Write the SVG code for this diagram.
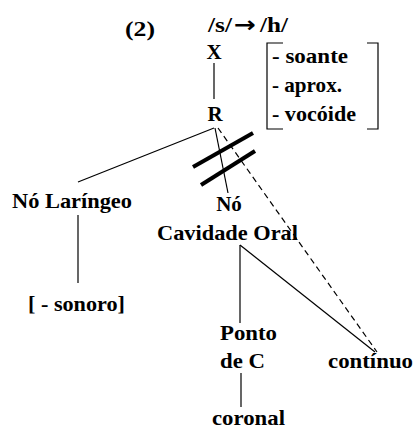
<svg xmlns="http://www.w3.org/2000/svg" width="416" height="429" viewBox="0 0 416 429">
<style>
text{font-family:"Liberation Serif","Times New Roman",serif;font-weight:bold;font-size:21px;fill:#000}
.l{stroke:#000;stroke-width:1.2;fill:none}
.d{stroke:#000;stroke-width:1.2;fill:none;stroke-dasharray:6,4}
.b{stroke:#000;stroke-width:4;fill:none}
.a{font-family:"DejaVu Sans",sans-serif;font-size:22px}
</style>
<rect width="416" height="429" fill="#fff"/>
<g id="title">
<text x="125" y="36" textLength="30" lengthAdjust="spacingAndGlyphs">(2)</text>
<text x="208" y="32" textLength="24" lengthAdjust="spacingAndGlyphs">/s/</text>
<text class="a" x="234" y="32" textLength="22" lengthAdjust="spacingAndGlyphs">→</text>
<text x="260" y="32" textLength="28" lengthAdjust="spacingAndGlyphs">/h/</text>
</g>
<g id="connectors">
<line class="l" x1="214" y1="63" x2="214" y2="99"/>
<line class="l" x1="214" y1="128" x2="78" y2="182"/>
<line class="l" x1="215" y1="128" x2="228" y2="193"/>
<line class="d" x1="218" y1="128" x2="377" y2="352"/>
<line class="b" x1="193" y1="167" x2="253" y2="133"/>
<line class="b" x1="201" y1="185" x2="255" y2="151"/>
<line class="l" x1="78" y1="215" x2="78" y2="283"/>
<line class="l" x1="240" y1="245" x2="240" y2="323"/>
<line class="l" x1="240" y1="245" x2="375" y2="352"/>
<line class="l" x1="241" y1="373" x2="241" y2="407"/>
</g>
<g id="X"><text x="214" y="59" text-anchor="middle">X</text></g>
<g id="R"><text x="215" y="121" text-anchor="middle">R</text></g>
<g id="features">
<path class="l" d="M283,43 H267 V129 H283"/>
<path class="l" d="M367,43 H378 V129 H367"/>
<text x="272" y="63" textLength="76" lengthAdjust="spacingAndGlyphs">- soante</text>
<text x="272" y="92" textLength="70" lengthAdjust="spacingAndGlyphs">- aprox.</text>
<text x="272" y="121" textLength="84" lengthAdjust="spacingAndGlyphs">- vocóide</text>
</g>
<g id="laringeo"><text x="12" y="208" textLength="120" lengthAdjust="spacingAndGlyphs">Nó Laríngeo</text></g>
<g id="sonoro"><text x="28" y="311" textLength="97" lengthAdjust="spacingAndGlyphs">[ - sonoro]</text></g>
<g id="cavidade">
<text x="229" y="211" text-anchor="middle">Nó</text>
<text x="157" y="240" textLength="141" lengthAdjust="spacingAndGlyphs">Cavidade Oral</text>
</g>
<g id="ponto">
<text x="220" y="340" textLength="57" lengthAdjust="spacingAndGlyphs">Ponto</text>
<text x="220" y="368" textLength="45" lengthAdjust="spacingAndGlyphs">de C</text>
</g>
<g id="continuo"><text x="328" y="368" textLength="85" lengthAdjust="spacingAndGlyphs">contínuo</text></g>
<g id="coronal"><text x="212" y="425" textLength="73" lengthAdjust="spacingAndGlyphs">coronal</text></g>
</svg>
